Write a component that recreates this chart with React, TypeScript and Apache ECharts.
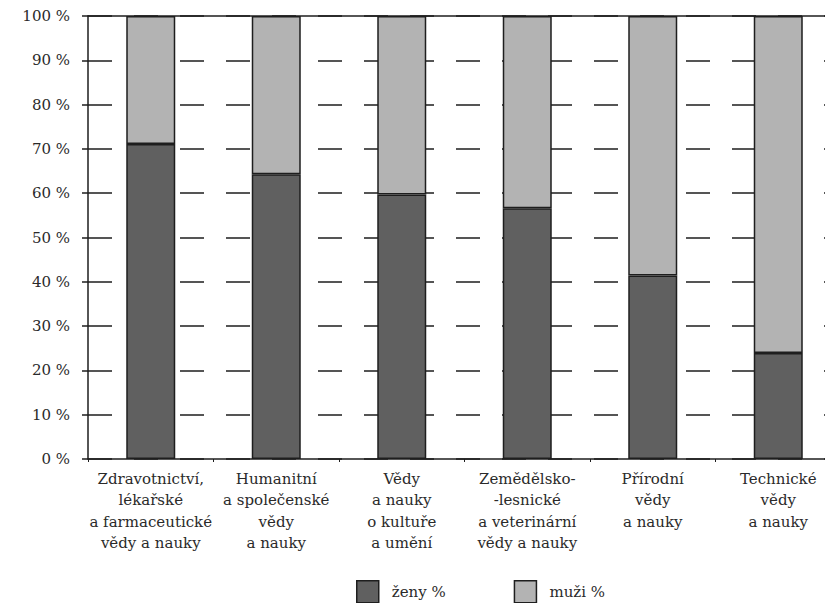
import React, { useEffect, useRef } from "react";
import * as echarts from "echarts";

const categories = [
  "Zdravotnictví,\nlékařské\na farmaceutické\nvědy a nauky",
  "Humanitní\na společenské\nvědy\na nauky",
  "Vědy\na nauky\no kultuře\na umění",
  "Zemědělsko-\n-lesnické\na veterinární\nvědy a nauky",
  "Přírodní\nvědy\na nauky",
  "Technické\nvědy\na nauky",
];
const zeny = [71.1, 64.3, 59.7, 56.6, 41.4, 23.9];
const muzi = [28.9, 35.7, 40.3, 43.4, 58.6, 76.1];
const yTicks = [0, 10, 20, 30, 40, 50, 60, 70, 80, 90, 100];

const FONT = "DejaVu Serif";
const TEXT = "#2a2a2a";

export default function App() {
  const ref = useRef<HTMLDivElement>(null);
  useEffect(() => {
    if (!ref.current) return;
    const chart = echarts.init(ref.current, undefined, { renderer: "svg" });
    chart.setOption({
      animation: false,
      backgroundColor: "#ffffff",
      textStyle: { fontFamily: FONT, color: TEXT },
      grid: { left: 88, top: 16, width: 753, height: 443, containLabel: false },
      legend: {
        data: ["ženy %", "muži %"],
        left: 356,
        top: 580,
        padding: 0,
        icon: "rect",
        itemWidth: 22,
        itemHeight: 22,
        itemGap: 68,
        textStyle: { fontFamily: FONT, fontSize: 15, color: TEXT, padding: [0, 0, 0, 8] },
        itemStyle: { borderColor: "#1e1e1e", borderWidth: 1.5 },
        selectedMode: false,
      },
      xAxis: [
        {
          type: "category",
          data: categories,
          position: "bottom",
          axisLine: { show: true, lineStyle: { color: "#1e1e1e", width: 1.5 } },
          axisTick: { show: true, length: 3, lineStyle: { color: "#1e1e1e" } },
          axisLabel: {
            interval: 0,
            margin: 9,
            fontFamily: FONT,
            fontSize: 15,
            lineHeight: 21.5,
            color: TEXT,
            align: "center",
          },
          splitLine: { show: false },
        },
        {
          type: "category",
          data: categories,
          position: "top",
          axisLine: { show: true, lineStyle: { color: "#1e1e1e", width: 1.5 } },
          axisTick: { show: false },
          axisLabel: { show: false },
        },
      ],
      yAxis: {
        type: "value",
        min: 0,
        max: 100,
        interval: 10,
        axisLine: { show: true, lineStyle: { color: "#1e1e1e", width: 1.5 } },
        axisTick: { show: true, length: 6, lineStyle: { color: "#1e1e1e", width: 1.5 } },
        axisLabel: {
          margin: 18,
          fontFamily: FONT,
          fontSize: 15,
          color: TEXT,
          formatter: (v: number) => (yTicks.includes(v) ? v + " %" : ""),
        },
        splitLine: {
          show: true,
          lineStyle: { color: "#1e1e1e", width: 1.5, type: [24, 22], dashOffset: 0 },
        },
      },
      series: [
        {
          name: "ženy %",
          type: "bar",
          stack: "total",
          data: zeny,
          barWidth: 49,
          itemStyle: { color: "#606060", borderColor: "#1e1e1e", borderWidth: 1.5 },
        },
        {
          name: "muži %",
          type: "bar",
          stack: "total",
          data: muzi,
          barWidth: 49,
          itemStyle: { color: "#b3b3b3", borderColor: "#1e1e1e", borderWidth: 1.5 },
        },
      ],
    });
    return () => chart.dispose();
  }, []);
  return (
    <div style={{ width: 825, height: 603, position: "absolute", left: 0, top: 0, overflow: "hidden" }}>
      <div ref={ref} style={{ width: 845, height: 603 }} />
    </div>
  );
}
